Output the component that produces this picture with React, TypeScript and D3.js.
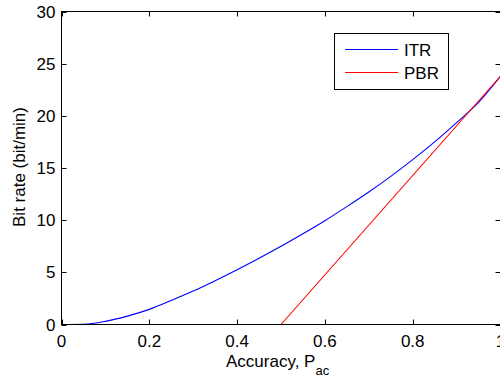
import React from "react";
import * as d3 from "d3";

const accuracy = [0, 0.05, 0.1, 0.15, 0.2, 0.25, 0.3, 0.35, 0.4, 0.45, 0.5, 0.55, 0.6, 0.65, 0.7, 0.75, 0.8, 0.85, 0.9, 0.95, 1];
const itr = [0, 0.02, 0.3, 0.8, 1.45, 2.3, 3.2, 4.2, 5.25, 6.35, 7.5, 8.7, 9.95, 11.3, 12.7, 14.2, 15.8, 17.5, 19.35, 21.3, 23.8];
const pbrAccuracy = [0.5, 1];
const pbr = [0, 23.8];
const xTicks = [0, 0.2, 0.4, 0.6, 0.8, 1];
const yTicks = [0, 5, 10, 15, 20, 25, 30];
const seriesNames = ["ITR", "PBR"];
const seriesColors = ["#0000ff", "#ff0000"];

const W = 500;
const H = 381;
const L = 61.5;
const R = 500.5;
const T = 11.5;
const B = 324.5;
const FONT = "'Liberation Sans', Arial, Helvetica, sans-serif";

export default function App() {
  const x = d3.scaleLinear().domain([0, 1]).range([L, R]);
  const y = d3.scaleLinear().domain([0, 30]).range([B, T]);
  const line = d3
    .line<[number, number]>()
    .x((d) => x(d[0]))
    .y((d) => y(d[1]))
    .curve(d3.curveMonotoneX);
  const itrData = accuracy.map((a, i) => [a, itr[i]] as [number, number]);
  const pbrData = pbrAccuracy.map((a, i) => [a, pbr[i]] as [number, number]);
  const tl = 5;

  return (
    <svg
      width={W}
      height={H}
      style={{ position: "absolute", left: 0, top: 0, background: "#fff" }}
      fontFamily={FONT}
    >
      <rect x={0} y={0} width={W} height={H} fill="#fff" />
      <defs>
        <clipPath id="plotClip">
          <rect x={L} y={T} width={R - L} height={B - T} />
        </clipPath>
      </defs>
      <g clipPath="url(#plotClip)">
        <path d={line(itrData) || ""} fill="none" stroke={seriesColors[0]} strokeWidth={1.1} />
        <path d={line(pbrData) || ""} fill="none" stroke={seriesColors[1]} strokeWidth={1.1} />
      </g>
      <rect x={L} y={T} width={R - L} height={B - T} fill="none" stroke="#000" strokeWidth={1} />
      {xTicks.map((t) => (
        <g key={"x" + t}>
          <line x1={Math.round(x(t)) + 0.5} x2={Math.round(x(t)) + 0.5} y1={B} y2={B - tl} stroke="#000" />
          <line x1={Math.round(x(t)) + 0.5} x2={Math.round(x(t)) + 0.5} y1={T} y2={T + tl} stroke="#000" />
          <text x={x(t)} y={B + 22} fontSize={17} textAnchor="middle" fill="#000">
            {String(t)}
          </text>
        </g>
      ))}
      {yTicks.map((t) => (
        <g key={"y" + t}>
          <line x1={L} x2={L + tl} y1={Math.round(y(t)) + 0.5} y2={Math.round(y(t)) + 0.5} stroke="#000" />
          <line x1={R} x2={R - tl} y1={Math.round(y(t)) + 0.5} y2={Math.round(y(t)) + 0.5} stroke="#000" />
          <text x={L - 6} y={y(t) + 6} fontSize={17} textAnchor="end" fill="#000">
            {String(t)}
          </text>
        </g>
      ))}
      <text x={226} y={367} fontSize={17} fill="#000">
        Accuracy, P
        <tspan fontSize={13} dy={8}>ac</tspan>
      </text>
      <text
        transform={`translate(25,167) rotate(-90)`}
        fontSize={17}
        textAnchor="middle"
        fill="#000"
      >
        Bit rate (bit/min)
      </text>
      <rect x={334.5} y={33.5} width={114} height={56} fill="#fff" stroke="#000" strokeWidth={1} />
      {seriesNames.map((n, i) => (
        <g key={n}>
          <line x1={345} x2={398} y1={49.5 + i * 23} y2={49.5 + i * 23} stroke={seriesColors[i]} strokeWidth={1.1} />
          <text x={404} y={56 + i * 23} fontSize={17} fill="#000">
            {n}
          </text>
        </g>
      ))}
    </svg>
  );
}
